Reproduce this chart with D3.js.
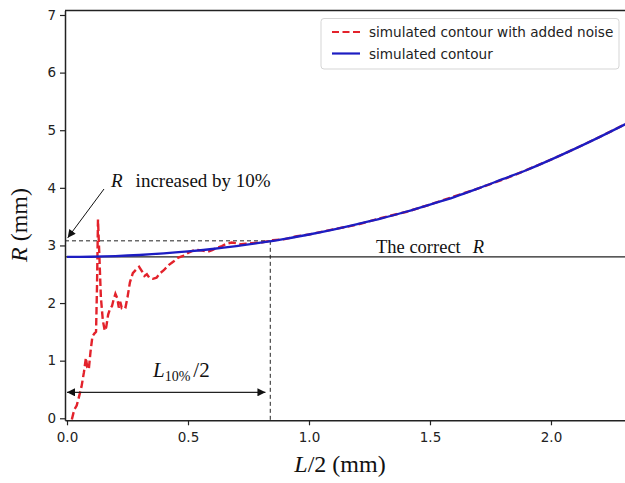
<!DOCTYPE html>
<html>
<head>
<meta charset="utf-8">
<script src="https://cdn.jsdelivr.net/npm/d3@7"></script>
<style>
  body { margin: 0; background: #fff; }
  svg { display: block; }
</style>
</head>
<body>
<div id="chart"></div>
<script>
// values
const blueX = [0, 0.1, 0.2, 0.3, 0.4, 0.5, 0.6, 0.7, 0.8, 0.9, 1.0, 1.1, 1.2, 1.3, 1.4, 1.5, 1.6, 1.7, 1.8, 1.9, 2.0, 2.1, 2.2, 2.31];
const blueR = [2.80, 2.804, 2.815, 2.834, 2.861, 2.896, 2.938, 2.989, 3.047, 3.115, 3.19, 3.275, 3.37, 3.47, 3.585, 3.71, 3.84, 3.99, 4.15, 4.31, 4.49, 4.68, 4.88, 5.11];

const redX = [0.02, 0.03, 0.04, 0.05, 0.06, 0.07, 0.078, 0.084, 0.09, 0.097, 0.105, 0.113, 0.12, 0.124, 0.128, 0.133, 0.14, 0.148, 0.156, 0.162,
  0.17, 0.178, 0.186, 0.192, 0.20, 0.208, 0.214, 0.22, 0.226, 0.234, 0.242, 0.25, 0.26, 0.272, 0.285, 0.298, 0.31, 0.32, 0.33, 0.34,
  0.355, 0.37, 0.385, 0.40, 0.42, 0.44, 0.46, 0.48, 0.50, 0.52, 0.54, 0.56, 0.58, 0.60, 0.62, 0.64, 0.66, 0.68, 0.70, 0.72, 0.74, 0.76, 0.80,
  0.85, 0.9, 0.95, 1.0, 1.1, 1.2, 1.3, 1.4, 1.5, 1.6, 1.7, 1.8, 1.9, 2.0, 2.1, 2.2, 2.31];
const redR = [-0.02, 0.15, 0.22, 0.38, 0.55, 0.80, 1.05, 0.88, 0.85, 1.15, 1.42, 1.47, 1.50, 2.30, 3.45, 2.90, 2.10, 1.70, 1.52, 1.58,
  1.80, 1.90, 1.95, 2.05, 2.16, 2.08, 1.92, 2.02, 1.92, 1.95, 1.93, 2.10, 2.36, 2.52, 2.58, 2.63, 2.55, 2.47, 2.50, 2.44,
  2.42, 2.44, 2.52, 2.57, 2.66, 2.72, 2.79, 2.82, 2.87, 2.91, 2.92, 2.91, 2.89, 2.92, 2.96, 2.99, 3.03, 3.05, 3.04, 3.02, 3.03, 3.04, 3.05,
  3.09, 3.11, 3.16, 3.19, 3.28, 3.36, 3.48, 3.58, 3.71, 3.85, 3.99, 4.14, 4.31, 4.49, 4.68, 4.88, 5.11];

const xTicks = [0.0, 0.5, 1.0, 1.5, 2.0];
const yTicks = [0, 1, 2, 3, 4, 5, 6, 7];
const seriesNames = ["simulated contour with added noise", "simulated contour"];

const correctR = 2.8;
const raisedR = 3.08;
const raisedX = 0.84;
const spanY = 0.45;
const spanEnd = 0.82;

const width = 625, height = 483;
const mLeft = 65, mRight = 626, mTop = 10.5, mBottom = 420.3;

const svg = d3.select("#chart").append("svg")
  .attr("width", width)
  .attr("height", height);

const x = d3.scaleLinear().domain([-0.0083, 2.31]).range([mLeft, mRight]);
const y = d3.scaleLinear().domain([-0.035, 7.078]).range([mBottom, mTop]);

const sans = "DejaVu Sans, sans-serif";
const serif = "Liberation Serif, Times New Roman, serif";

// arrow heads
const defs = svg.append("defs");
defs.append("marker")
  .attr("id", "head")
  .attr("viewBox", "0 0 10 10")
  .attr("refX", 10).attr("refY", 5)
  .attr("markerWidth", 10).attr("markerHeight", 8)
  .attr("markerUnits", "userSpaceOnUse")
  .attr("orient", "auto-start-reverse")
  .append("path").attr("d", "M0,0 L10,5 L0,10 Z").attr("fill", "#111");
defs.append("clipPath").attr("id", "plot")
  .append("rect").attr("x", mLeft).attr("y", mTop).attr("width", mRight - mLeft).attr("height", mBottom - mTop);

const plot = svg.append("g").attr("clip-path", "url(#plot)");

// reference lines
plot.append("line")
  .attr("x1", mLeft).attr("x2", mRight)
  .attr("y1", y(correctR)).attr("y2", y(correctR))
  .attr("stroke", "#222").attr("stroke-width", 1.2);

plot.append("line")
  .attr("x1", mLeft).attr("x2", x(raisedX))
  .attr("y1", y(raisedR)).attr("y2", y(raisedR))
  .attr("stroke", "#222").attr("stroke-width", 1).attr("stroke-dasharray", "4,3");
plot.append("line")
  .attr("x1", x(raisedX)).attr("x2", x(raisedX))
  .attr("y1", y(raisedR)).attr("y2", mBottom)
  .attr("stroke", "#222").attr("stroke-width", 1).attr("stroke-dasharray", "4,3");

const line = d3.line().x(d => x(d[0])).y(d => y(d[1]));

plot.append("path")
  .datum(redX.map((v, i) => [v, redR[i]]))
  .attr("d", line)
  .attr("fill", "none")
  .attr("stroke", "#e3222b")
  .attr("stroke-width", 2.4)
  .attr("stroke-dasharray", "7.5,3.5");

plot.append("path")
  .datum(blueX.map((v, i) => [v, blueR[i]]))
  .attr("d", d3.line().curve(d3.curveMonotoneX).x(d => x(d[0])).y(d => y(d[1])))
  .attr("fill", "none")
  .attr("stroke", "#1d1dc2")
  .attr("stroke-width", 2.3);

// double arrow for L10%/2
svg.append("line")
  .attr("x1", x(0)).attr("x2", x(spanEnd))
  .attr("y1", y(spanY)).attr("y2", y(spanY))
  .attr("stroke", "#222").attr("stroke-width", 1.2)
  .attr("marker-start", "url(#head)")
  .attr("marker-end", "url(#head)");

// arrow to the raised R level
svg.append("line")
  .attr("x1", 104).attr("y1", 189)
  .attr("x2", x(0.003)).attr("y2", y(raisedR) - 3)
  .attr("stroke", "#111").attr("stroke-width", 1)
  .attr("marker-end", "url(#head)");

// axes
const xAxis = svg.append("g")
  .attr("transform", `translate(0,${mBottom})`)
  .call(d3.axisBottom(x).tickValues(xTicks).tickFormat(d3.format(".1f")).tickSize(5).tickSizeOuter(0));
const yAxis = svg.append("g")
  .attr("transform", `translate(${mLeft},0)`)
  .call(d3.axisLeft(y).tickValues(yTicks).tickFormat(d3.format("d")).tickSize(5).tickSizeOuter(0));

[xAxis, yAxis].forEach(a => {
  a.select(".domain").attr("stroke", "#222").attr("stroke-width", 1.5);
  a.selectAll(".tick line").attr("stroke", "#222").attr("stroke-width", 1.2);
  a.selectAll(".tick text").attr("fill", "#222").style("font-family", sans).style("font-size", "13.5px");
});
xAxis.selectAll(".tick text").attr("dy", "1.05em").attr("y", 8);
yAxis.selectAll(".tick text").attr("x", -9);

svg.append("line")
  .attr("x1", mLeft).attr("x2", mRight)
  .attr("y1", mTop).attr("y2", mTop)
  .attr("stroke", "#222").attr("stroke-width", 1.5);

// axis titles
const xt = svg.append("text")
  .attr("x", 340).attr("y", 472)
  .attr("text-anchor", "middle")
  .style("font-family", serif).style("font-size", "24px").attr("fill", "#111");
xt.append("tspan").style("font-style", "italic").text("L");
xt.append("tspan").text("/2 (mm)");

const yt = svg.append("text")
  .attr("transform", "translate(27,225) rotate(-90)")
  .attr("text-anchor", "middle")
  .style("font-family", serif).style("font-size", "24px").attr("fill", "#111");
yt.append("tspan").style("font-style", "italic").text("R");
yt.append("tspan").text(" (mm)");

// annotations
const a1 = svg.append("text")
  .attr("x", 111).attr("y", 187)
  .style("font-family", serif).style("font-size", "19px").attr("fill", "#111");
a1.append("tspan").style("font-style", "italic").text("R");
a1.append("tspan").attr("dx", 13).text("increased by 10%");

const a2 = svg.append("text")
  .attr("x", 376).attr("y", 252.5)
  .style("font-family", serif).style("font-size", "18.5px").attr("fill", "#111");
a2.append("tspan").text("The correct");
a2.append("tspan").attr("dx", 12).style("font-style", "italic").text("R");

const a3 = svg.append("text")
  .attr("x", 153).attr("y", 377)
  .style("font-family", serif).style("font-size", "21px").attr("fill", "#111");
a3.append("tspan").style("font-style", "italic").text("L");
a3.append("tspan").attr("dy", 4).style("font-size", "14px").text("10%");
a3.append("tspan").attr("dy", -4).attr("dx", 3).text("/2");

// legend
const lg = svg.append("g");
lg.append("rect")
  .attr("x", 321).attr("y", 18.5).attr("width", 298).attr("height", 50.5)
  .attr("rx", 3).attr("fill", "#fff").attr("fill-opacity", 0.8)
  .attr("stroke", "#d5d5d5").attr("stroke-width", 1);
const legendStyles = [
  { color: "#e3222b", dash: "7,3.5" },
  { color: "#1d1dc2", dash: null }
];
seriesNames.forEach((name, i) => {
  const cy = 32 + i * 21.5;
  lg.append("line")
    .attr("x1", 332).attr("x2", 360)
    .attr("y1", cy).attr("y2", cy)
    .attr("stroke", legendStyles[i].color).attr("stroke-width", 2.2)
    .attr("stroke-dasharray", legendStyles[i].dash);
  lg.append("text")
    .attr("x", 369).attr("y", cy + 5)
    .style("font-family", sans).style("font-size", "13.6px").attr("fill", "#222")
    .text(name);
});
</script>
</body>
</html>
